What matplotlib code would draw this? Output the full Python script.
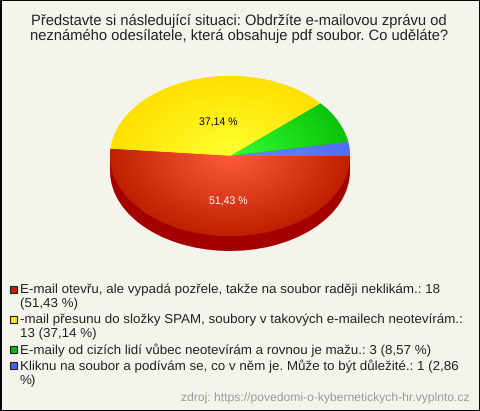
import matplotlib.pyplot as plt
import numpy as np
from matplotlib.patches import Rectangle

plt.rcParams["font.family"] = ["Liberation Sans", "DejaVu Sans"]
plt.rcParams["text.hinting"] = "no_hinting"

W, H = 480, 411
title = "Představte si následující situaci: Obdržíte e-mailovou zprávu od\nneznámého odesílatele, která obsahuje pdf soubor. Co uděláte?"
source = "zdroj: https://povedomi-o-kybernetickych-hr.vyplnto.cz"

# clockwise from the right edge in the legend order
legend_labels = [
    "E-mail otevřu, ale vypadá pozřele, takže na soubor raději neklikám.: 18\n(51,43 %)",
    "-mail přesunu do složky SPAM, soubory v takových e-mailech neotevírám.:\n13 (37,14 %)",
    "E-maily od cizích lidí vůbec neotevírám a rovnou je mažu.: 3 (8,57 %)",
    "Kliknu na soubor a podívám se, co v něm je. Může to být důležité.: 1 (2,86\n%)",
]
counts = [18, 13, 3, 1]
pct_labels = ["51,43 %", "37,14 %", "", ""]
pct_colors = ["white", "black", "black", "black"]
legend_colors = ["#C42000", "#FFE81A", "#0CB80C", "#4466EE"]
center_colors = ["#FF5A3C", "#FFFF30", "#33FF33", "#6688FF"]
edge_colors = ["#BE2000", "#FFE000", "#0AC40A", "#5070F5"]
side_color = "#A50000"

fig = plt.figure(figsize=(W / 100, H / 100), dpi=100, facecolor="#F5F4EC")
bg = fig.add_axes([0, 0, 1, 1])
bg.set_xlim(0, W)
bg.set_ylim(H, 0)
bg.axis("off")
bg.add_patch(Rectangle((0.5, 0.5), W - 1, H - 1, fc="none", ec="black", lw=1.4))

# pie box in pixels: centre 230,156, radii 120 x 80
cx, cy, rx, ry, depth = 230, 156, 120, 80, 15
ax = fig.add_axes([(cx - rx) / W, 1 - (cy + ry + depth) / H, 2 * rx / W, (2 * ry + depth) / H])
ax.patch.set_alpha(0)

# pie is drawn anticlockwise from 0, so the legend order is reversed
rev_counts = counts[::-1]
ax.pie(rev_counts, colors=[side_color] * 4, startangle=0, center=(0, -depth / ry), radius=1,
       wedgeprops={"lw": 0})
ax.add_patch(Rectangle((-1, -depth / ry), 2, depth / ry, fc=side_color, lw=0))
wedges, _ = ax.pie(rev_counts, colors=edge_colors[::-1], startangle=0, center=(0, 0), radius=1,
                   wedgeprops={"lw": 0})

xx, yy = np.meshgrid(np.linspace(-1, 1, 300), np.linspace(-1, 1, 200))
shade = np.clip(np.hypot(xx, yy), 0, 1)[..., None]
for w, c0, c1 in zip(wedges, center_colors[::-1], edge_colors[::-1]):
    c0 = np.array(plt.matplotlib.colors.to_rgb(c0))
    c1 = np.array(plt.matplotlib.colors.to_rgb(c1))
    im = ax.imshow(c0 * (1 - shade) + c1 * shade, extent=(-1, 1, -1, 1), origin="lower",
                   aspect="auto", interpolation="bilinear", zorder=2)
    im.set_clip_path(w)

ax.set_aspect("auto")
ax.set_xlim(-1, 1)
ax.set_ylim(-1 - depth / ry, 1)
ax.axis("off")

bg.set_zorder(0)
ax.set_zorder(1)
top = fig.add_axes([0, 0, 1, 1], zorder=2)
top.set_xlim(0, W)
top.set_ylim(H, 0)
top.axis("off")

top.text(239, 28, title, ha="center", va="center", fontsize=10.65, color="#222222", linespacing=1.08)

pct_pos = [(228, 202), (218, 122.5)]
for (x, y), s, c in zip(pct_pos, pct_labels, pct_colors):
    top.text(x, y, s, ha="center", va="center", fontsize=7.6, color=c)

legend_y = [289, 319, 349, 365]
for y, s, c in zip(legend_y, legend_labels, legend_colors):
    top.add_patch(Rectangle((10, y - 3.5), 6.5, 7, fc=c, ec="#222222", lw=0.8))
    top.text(20, y - 5, s, ha="left", va="top", fontsize=9.6, color="#222222", linespacing=1.13)

top.text(470, 398.5, source, ha="right", va="center", fontsize=8.75, color="#999999")

fig.savefig("out.png", dpi=100, facecolor=fig.get_facecolor())
